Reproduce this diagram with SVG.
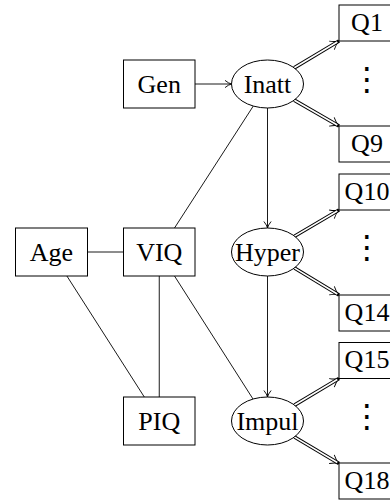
<svg xmlns="http://www.w3.org/2000/svg" width="390" height="500" viewBox="0 0 390 500">
<style>
.box{fill:#fff;stroke:#000;stroke-width:1}
.lat{fill:#fff;stroke:#000;stroke-width:1}
text{font-family:"Liberation Serif","DejaVu Serif",serif;font-size:26px;text-anchor:middle;fill:#000}
text.dots{font-family:"DejaVu Sans",sans-serif;font-size:32px}
.ln{stroke:#000;stroke-width:0.9;fill:none}
.dO{stroke:#000;stroke-width:3.6;fill:none}
.dI{stroke:#fff;stroke-width:1.6;fill:none}
</style>
<defs>
<marker id="arr" markerUnits="userSpaceOnUse" orient="auto" refX="0" refY="0" markerWidth="10" markerHeight="10" overflow="visible">
<path d="M -6.5 -3.6 Q -2.8 -0.6 0 0 Q -2.8 0.6 -6.5 3.6" fill="none" stroke="#000" stroke-width="0.9"/>
</marker>
<marker id="darr" markerUnits="userSpaceOnUse" orient="auto" refX="0" refY="0" markerWidth="12" markerHeight="12" overflow="visible">
<path d="M -8.5 -5 Q -3.8 -1 0 0 Q -3.8 1 -8.5 5" fill="none" stroke="#000" stroke-width="0.9"/>
</marker>
</defs>

<g id="connectors">
<path class="ln" d="M195 84 L231.5 84" marker-end="url(#arr)"/>
<path class="ln" d="M267.5 108 L267.5 228" marker-end="url(#arr)"/>
<path class="ln" d="M267.5 276 L267.5 397" marker-end="url(#arr)"/>
<path class="ln" d="M87.5 252 L123.5 252"/>
<path class="ln" d="M66.9 276 L144.3 397"/>
<path class="ln" d="M159.25 276 L159.25 397"/>
<path class="ln" d="M174.5 276 L253 399"/>
<path class="ln" d="M174.5 228 L253.3 106"/>

<path class="dO" d="M294.2 67.9 L339 41" marker-end="url(#darr)"/>
<path class="dI" d="M293.5 68.3 L337.3 42"/>
<path class="dO" d="M294.2 100.1 L339 126" marker-end="url(#darr)"/>
<path class="dI" d="M293.5 99.7 L337.3 125"/>

<path class="dO" d="M294.5 236.2 L339 210" marker-end="url(#darr)"/>
<path class="dI" d="M293.8 236.6 L337.3 211"/>
<path class="dO" d="M294.5 268 L339 295" marker-end="url(#darr)"/>
<path class="dI" d="M293.8 267.6 L337.3 294"/>

<path class="dO" d="M294.5 405.1 L339 378.5" marker-end="url(#darr)"/>
<path class="dI" d="M293.8 405.5 L337.3 379.5"/>
<path class="dO" d="M294.5 437 L339 463.5" marker-end="url(#darr)"/>
<path class="dI" d="M293.8 436.6 L337.3 462.5"/>
</g>

<g id="Gen"><rect class="box" x="123.5" y="60" width="71.5" height="48"/><text x="159.25" y="93">Gen</text></g>
<g id="Age"><rect class="box" x="15.5" y="228" width="72" height="48"/><text x="51.5" y="261">Age</text></g>
<g id="VIQ"><rect class="box" x="123.5" y="228" width="71.5" height="48"/><text x="159.25" y="261">VIQ</text></g>
<g id="PIQ"><rect class="box" x="123.5" y="397" width="71.5" height="48"/><text x="159.25" y="430">PIQ</text></g>

<g id="Inatt"><ellipse class="lat" cx="267.5" cy="84" rx="36" ry="24"/><text x="267.5" y="93">Inatt</text></g>
<g id="Hyper"><ellipse class="lat" cx="267.5" cy="252" rx="36" ry="24"/><text x="267.5" y="261">Hyper</text></g>
<g id="Impul"><ellipse class="lat" cx="267.5" cy="421" rx="36" ry="24"/><text x="267.5" y="430">Impul</text></g>

<g id="Q1"><rect class="box" x="339" y="5" width="60" height="36"/><text x="367" y="30.5">Q1</text></g>
<g id="dots1"><text class="dots" x="367" y="90">⋮</text></g>
<g id="Q9"><rect class="box" x="339" y="126" width="60" height="36"/><text x="367" y="151.5">Q9</text></g>
<g id="Q10"><rect class="box" x="339" y="174" width="60" height="36"/><text x="367" y="199.5">Q10</text></g>
<g id="dots2"><text class="dots" x="367" y="258">⋮</text></g>
<g id="Q14"><rect class="box" x="339" y="295" width="60" height="36"/><text x="367" y="320.5">Q14</text></g>
<g id="Q15"><rect class="box" x="339" y="342.5" width="60" height="36"/><text x="367" y="368">Q15</text></g>
<g id="dots3"><text class="dots" x="367" y="427">⋮</text></g>
<g id="Q18"><rect class="box" x="339" y="463" width="60" height="36"/><text x="367" y="488.5">Q18</text></g>
</svg>
